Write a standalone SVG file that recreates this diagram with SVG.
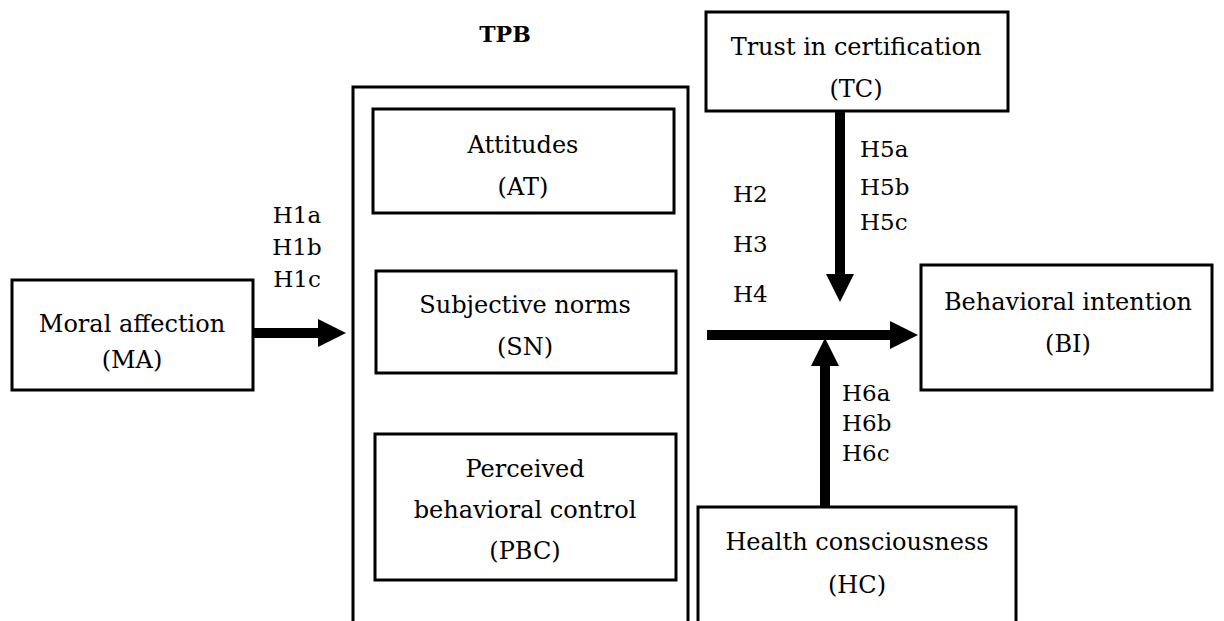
<svg xmlns="http://www.w3.org/2000/svg" width="1224" height="621" viewBox="0 0 1224 621" font-family="'DejaVu Serif', serif">
<style>
.box{fill:#fff;stroke:#000;stroke-width:3}
.frame{fill:none;stroke:#000;stroke-width:3}
text{font-family:'DejaVu Serif',serif;font-size:24px;fill:#000}
.c{text-anchor:middle}
.lbl{font-size:23px}
.title{font-weight:bold;font-size:22px}
.conn{stroke:#000;stroke-width:10;fill:none;marker-end:url(#ah)}
</style>
<defs>
<marker id="ah" viewBox="0 0 28 28" markerUnits="userSpaceOnUse" markerWidth="28" markerHeight="28" refX="0" refY="14" orient="auto">
<path d="M0,0 L28,14 L0,28 z" fill="#000"/>
</marker>
</defs>
<rect width="1224" height="621" fill="#fff"/>
<g id="tpb">
<rect class="frame" x="353" y="87" width="335" height="560"/>
<text class="title c" x="505" y="42">TPB</text>
</g>
<g id="connectors">
<line class="conn" x1="253" y1="333" x2="318" y2="333"/>
<line class="conn" x1="707" y1="335" x2="890" y2="335"/>
<line class="conn" x1="840" y1="111" x2="840" y2="274"/>
<line class="conn" x1="825" y1="508" x2="825" y2="366"/>
</g>
<g id="labels">
<text class="lbl c" x="297" y="223">H1a</text>
<text class="lbl c" x="297" y="255">H1b</text>
<text class="lbl c" x="297" y="287">H1c</text>
<text class="lbl" x="733" y="202">H2</text>
<text class="lbl" x="733" y="252">H3</text>
<text class="lbl" x="733" y="302">H4</text>
<text class="lbl" x="860" y="157">H5a</text>
<text class="lbl" x="860" y="195">H5b</text>
<text class="lbl" x="860" y="230">H5c</text>
<text class="lbl" x="842" y="401">H6a</text>
<text class="lbl" x="842" y="431">H6b</text>
<text class="lbl" x="842" y="461">H6c</text>
</g>
<g id="MA">
<rect class="box" x="12" y="280" width="241" height="110"/>
<text class="c" x="132" y="332">Moral affection</text>
<text class="c" x="132" y="368">(MA)</text>
</g>
<g id="AT">
<rect class="box" x="373" y="109" width="301" height="104"/>
<text class="c" x="523" y="153">Attitudes</text>
<text class="c" x="523" y="195">(AT)</text>
</g>
<g id="SN">
<rect class="box" x="376" y="271" width="300" height="102"/>
<text class="c" x="525" y="313">Subjective norms</text>
<text class="c" x="525" y="355">(SN)</text>
</g>
<g id="PBC">
<rect class="box" x="375" y="434" width="301" height="146"/>
<text class="c" x="525" y="477">Perceived</text>
<text class="c" x="525" y="518">behavioral control</text>
<text class="c" x="525" y="559">(PBC)</text>
</g>
<g id="TC">
<rect class="box" x="706" y="12" width="302" height="99"/>
<text class="c" x="856" y="55">Trust in certification</text>
<text class="c" x="856" y="97">(TC)</text>
</g>
<g id="BI">
<rect class="box" x="921" y="265" width="291" height="125"/>
<text class="c" x="1068" y="310">Behavioral intention</text>
<text class="c" x="1068" y="352">(BI)</text>
</g>
<g id="HC">
<rect class="box" x="698" y="507" width="318" height="140"/>
<text class="c" x="857" y="550">Health consciousness</text>
<text class="c" x="857" y="593">(HC)</text>
</g>
</svg>
